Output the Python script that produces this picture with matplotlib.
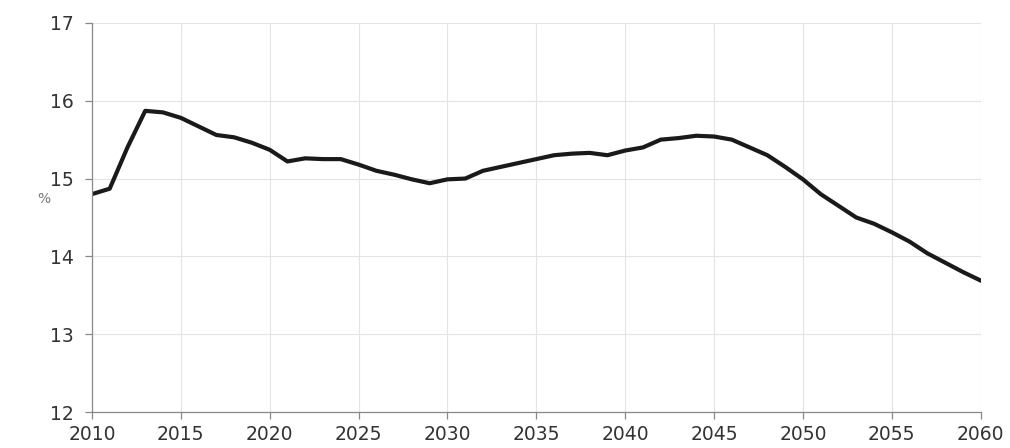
import matplotlib.pyplot as plt

years = list(range(2010, 2061))
share = [
    14.80, 14.87, 15.40, 15.87, 15.85, 15.78, 15.67, 15.56, 15.53, 15.46,
    15.37, 15.22, 15.26, 15.25, 15.25, 15.18, 15.10, 15.05, 14.99, 14.94,
    14.99, 15.00, 15.10, 15.15, 15.20, 15.25, 15.30, 15.32, 15.33, 15.30,
    15.36, 15.40, 15.50, 15.52, 15.55, 15.54, 15.50, 15.40, 15.30, 15.15,
    14.99, 14.80, 14.65, 14.50, 14.42, 14.31, 14.19, 14.04, 13.92, 13.80,
    13.69,
]
x_ticks = list(range(2010, 2061, 5))
y_ticks = [12, 13, 14, 15, 16, 17]

plt.rcParams["font.family"] = ["DejaVu Sans"]

fig = plt.figure(figsize=(10.1, 4.48), dpi=100)
ax = fig.add_axes([0.091, 0.080, 0.880, 0.869])

ax.plot(years, share, color="#1a1a1a", linewidth=3.0, solid_joinstyle="round")

ax.set_xlim(2010, 2060)
ax.set_ylim(12, 17)
ax.set_xticks(x_ticks)
ax.set_yticks(y_ticks)
ax.grid(True, color="#e3e3e3", linewidth=0.8)
ax.set_axisbelow(True)

for side in ("top", "right"):
    ax.spines[side].set_visible(False)
for side in ("left", "bottom"):
    ax.spines[side].set_color("#888888")
    ax.spines[side].set_linewidth(0.9)

ax.tick_params(axis="both", colors="#888888", length=5, width=0.9,
               labelcolor="#333333", labelsize=13.5)
ax.tick_params(axis="x", pad=4)
ax.tick_params(axis="y", pad=8)
ax.set_ylabel("%", rotation=0, color="#777777", fontsize=10)
ax.yaxis.set_label_coords(-0.054, 0.53)

fig.savefig("out.png", dpi=100)
